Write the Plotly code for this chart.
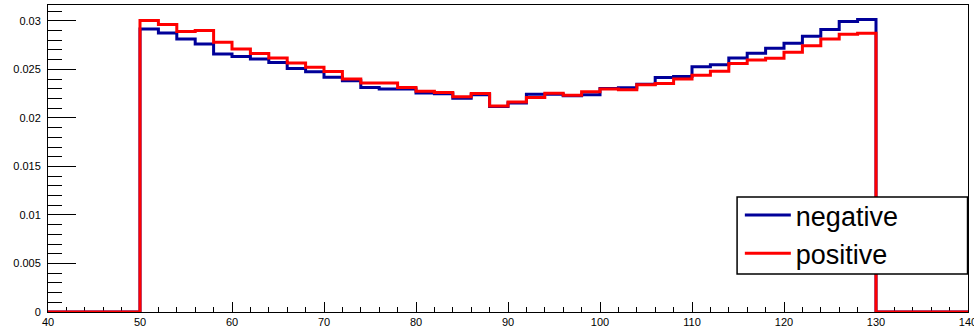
import numpy as np
import plotly.graph_objects as go

# Histogram binning (ROOT style, 50 bins from 40 to 140)
bin_low = 40
bin_high = 140
bin_width = 2

# Bin contents for bins 50..130 (40 bins of width 2); outside bins are zero
negative_vals = [
    0.02917, 0.02876, 0.02814, 0.02762, 0.02659, 0.02632, 0.02607, 0.02572, 0.02510, 0.02476,
    0.02420, 0.02383, 0.02314, 0.02297, 0.02297, 0.02258, 0.02250, 0.02203, 0.02238, 0.02117,
    0.02153, 0.02245, 0.02245, 0.02228, 0.02238, 0.02302, 0.02310, 0.02348, 0.02417, 0.02428,
    0.02527, 0.02548, 0.02617, 0.02666, 0.02717, 0.02769, 0.02841, 0.02910, 0.02993, 0.03013,
]
positive_vals = [
    0.03003, 0.02962, 0.02890, 0.02900, 0.02779, 0.02710, 0.02665, 0.02617, 0.02565, 0.02521,
    0.02478, 0.02400, 0.02359, 0.02359, 0.02314, 0.02274, 0.02262, 0.02217, 0.02252, 0.02124,
    0.02164, 0.02211, 0.02255, 0.02234, 0.02270, 0.02297, 0.02290, 0.02341, 0.02355, 0.02400,
    0.02441, 0.02480, 0.02562, 0.02596, 0.02614, 0.02676, 0.02745, 0.02814, 0.02862, 0.02872,
]
empty_left = [0, 0, 0, 0, 0]
empty_right = [0, 0, 0, 0, 0]

series_names = ["negative", "positive"]
series_colors = ["#000099", "#ff0000"]

x_ticks = [40, 50, 60, 70, 80, 90, 100, 110, 120, 130, 140]
y_ticks = [0, 0.005, 0.01, 0.015, 0.02, 0.025, 0.03]
y_tick_labels = ["0", "0.005", "0.01", "0.015", "0.02", "0.025", "0.03"]

edges = np.arange(bin_low, bin_high + bin_width, bin_width)

fig = go.Figure()
for name, vals, color in zip(series_names, [negative_vals, positive_vals], series_colors):
    counts = empty_left + vals + empty_right
    y = counts + [counts[-1]]
    fig.add_trace(go.Scatter(
        x=edges, y=y, mode="lines", name=name,
        line=dict(shape="hv", color=color, width=3),
        cliponaxis=False,
    ))

ymax = max(max(negative_vals), max(positive_vals)) * 1.05

# legend frame (ROOT TLegend box)
fig.add_shape(
    type="rect", xref="paper", yref="paper",
    x0=0.749, x1=0.9995, y0=0.124, y1=0.3746,
    fillcolor="white", line=dict(color="black", width=1.5), layer="above",
)

fig.update_layout(
    width=974, height=328,
    margin=dict(l=48, r=6, t=5, b=16),
    paper_bgcolor="white", plot_bgcolor="white",
    font=dict(family="Liberation Sans, Arial, sans-serif", color="black", size=11),
    showlegend=True,
    legend=dict(
        x=0.752, y=0.394, xanchor="left", yanchor="top",
        bgcolor="rgba(0,0,0,0)", borderwidth=0,
        font=dict(size=27, family="Liberation Sans, Arial, sans-serif"),
        itemwidth=46, tracegroupgap=0,
    ),
    xaxis=dict(
        range=[bin_low, bin_high], tickvals=x_ticks, ticks="inside", ticklen=10,
        tickcolor="black", tickwidth=1, showgrid=False, zeroline=False,
        showline=True, linecolor="black", linewidth=1, mirror=True,
        minor=dict(dtick=bin_width, ticks="inside", ticklen=5, tickcolor="black", tickwidth=1, showgrid=False),
        layer="below traces", automargin=False, ticklabeloverflow="allow",
    ),
    yaxis=dict(
        range=[0, ymax], tickvals=y_ticks, ticktext=y_tick_labels, ticks="inside", ticklen=28,
        tickcolor="black", tickwidth=1, showgrid=False, zeroline=False,
        showline=True, linecolor="black", linewidth=1, mirror=True,
        minor=dict(dtick=0.001, tick0=0, ticks="inside", ticklen=14, tickcolor="black", tickwidth=1, showgrid=False),
        ticklabelstandoff=4,
        layer="below traces", automargin=False, ticklabeloverflow="allow",
    ),
)

fig.write_html("out.html")
